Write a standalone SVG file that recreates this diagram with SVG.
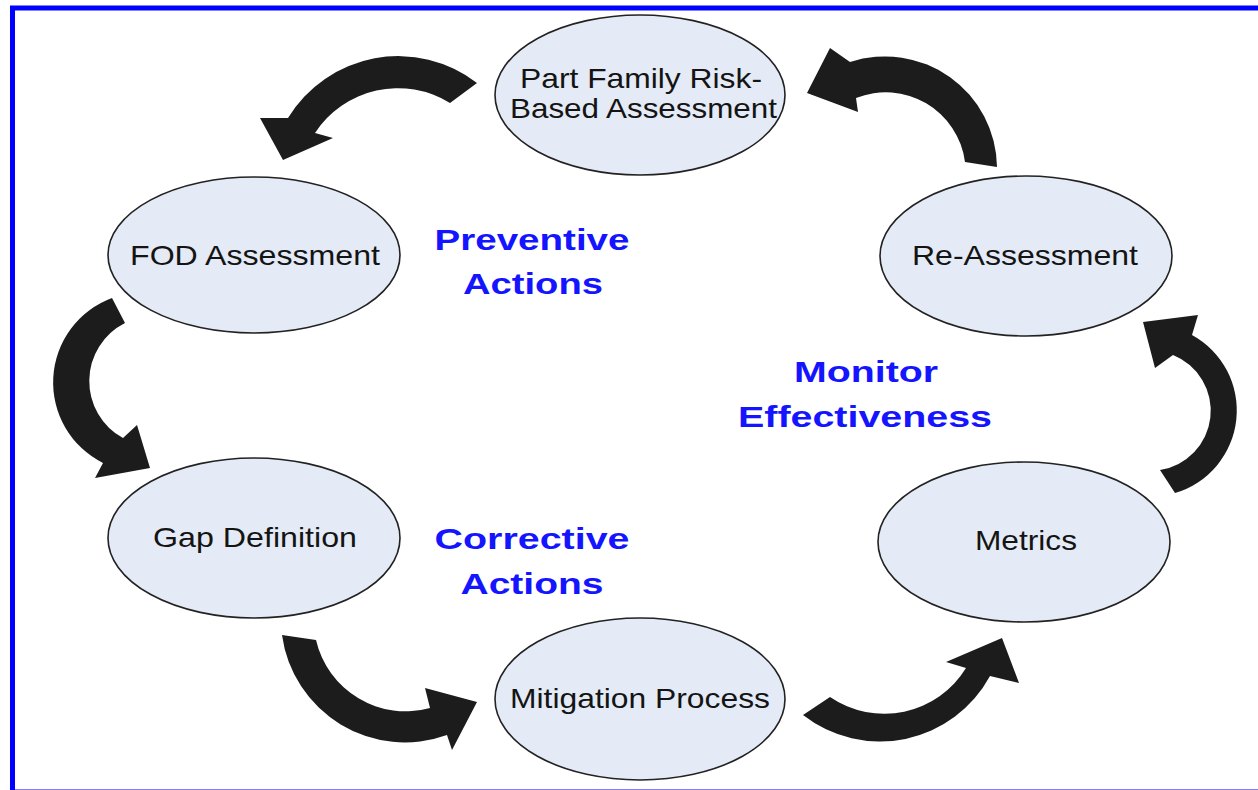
<svg xmlns="http://www.w3.org/2000/svg" width="1258" height="790" viewBox="0 0 1258 790">
<style>
.node ellipse{fill:#e4ebf6;stroke:#222;stroke-width:1.6}
.node text{font-family:"Liberation Sans",Arial,sans-serif;font-size:28px;fill:#141414;text-anchor:middle}
.lbl{font-family:"Liberation Sans",Arial,sans-serif;font-size:30px;font-weight:bold;fill:#1414ff;text-anchor:middle}
.arr{fill:#1c1c1c}
</style>
<rect x="0" y="0" width="1258" height="790" fill="#ffffff"/>
<rect x="12.5" y="8" width="1262" height="784" fill="none" stroke="#0000ff" stroke-width="5"/>
<g id="connectors">
<path class="arr" d="M477,83 A129,129 0 0 0 288,118 L260,118 L283,160 L333,138 L315,133 A99,99 0 0 1 450,103 Z"/>
<path class="arr" d="M112,298 A90,90 0 0 0 103,463 L95,478 L150,468 L137,425 L123,438 A65,65 0 0 1 125,323 Z"/>
<path class="arr" d="M282,635 A124,124 0 0 0 447,735 L452,750 L477,702 L425,688 L430,708 A92,92 0 0 1 316,640 Z"/>
<path class="arr" d="M803,715 A125,125 0 0 0 990,676 L1019,683 L1002,638 L946,662 L966,668 A96,96 0 0 1 830,697 Z"/>
<path class="arr" d="M1175,493 A86,86 0 0 0 1192,335 L1198,315 L1143,322 L1155,368 L1173,355 A60,60 0 0 1 1160,470 Z"/>
<path class="arr" d="M997,167 A112,112 0 0 0 850,62 L830,48 L807,93 L858,112 L856,98 A80,80 0 0 1 965,162 Z"/>
</g>
<g id="n-partfamily" class="node">
<ellipse cx="640" cy="95" rx="145" ry="80"/>
<text x="641" y="88" textLength="242" lengthAdjust="spacingAndGlyphs">Part Family Risk-</text>
<text x="643.5" y="118" textLength="267" lengthAdjust="spacingAndGlyphs">Based Assessment</text>
</g>
<g id="n-fod" class="node">
<ellipse cx="254" cy="255" rx="146" ry="78"/>
<text x="255" y="265" textLength="250" lengthAdjust="spacingAndGlyphs">FOD Assessment</text>
</g>
<g id="n-reassess" class="node">
<ellipse cx="1026" cy="256" rx="146" ry="80"/>
<text x="1025" y="265" textLength="226" lengthAdjust="spacingAndGlyphs">Re-Assessment</text>
</g>
<g id="n-gap" class="node">
<ellipse cx="254" cy="538" rx="146" ry="80"/>
<text x="255" y="547" textLength="204" lengthAdjust="spacingAndGlyphs">Gap Definition</text>
</g>
<g id="n-metrics" class="node">
<ellipse cx="1024" cy="542" rx="146" ry="80"/>
<text x="1026" y="550" textLength="102" lengthAdjust="spacingAndGlyphs">Metrics</text>
</g>
<g id="n-mitigation" class="node">
<ellipse cx="640" cy="699" rx="145" ry="81"/>
<text x="640" y="708" textLength="260" lengthAdjust="spacingAndGlyphs">Mitigation Process</text>
</g>
<g id="labels">
<text class="lbl" x="532" y="250" textLength="195" lengthAdjust="spacingAndGlyphs">Preventive</text>
<text class="lbl" x="533" y="294" textLength="140" lengthAdjust="spacingAndGlyphs">Actions</text>
<text class="lbl" x="866" y="382" textLength="144" lengthAdjust="spacingAndGlyphs">Monitor</text>
<text class="lbl" x="865" y="427" textLength="254" lengthAdjust="spacingAndGlyphs">Effectiveness</text>
<text class="lbl" x="532" y="549" textLength="195" lengthAdjust="spacingAndGlyphs">Corrective</text>
<text class="lbl" x="532" y="594" textLength="143" lengthAdjust="spacingAndGlyphs">Actions</text>
</g>
</svg>
